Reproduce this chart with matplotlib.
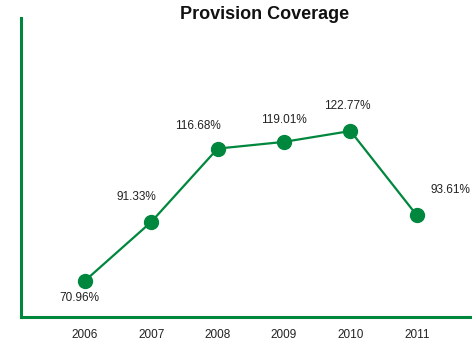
import matplotlib.pyplot as plt

# Provision coverage ratio by year
years = [2006, 2007, 2008, 2009, 2010, 2011]
coverage = [70.96, 91.33, 116.68, 119.01, 122.77, 93.61]
labels = ['70.96%', '91.33%', '116.68%', '119.01%', '122.77%', '93.61%']

# label offsets from each point, in points
label_offsets = [(-4, -12), (-11, 18), (-14, 16), (0, 16), (-2, 18), (24, 18)]

green = '#00873e'
plt.rcParams['font.family'] = ['Liberation Sans', 'DejaVu Sans']

fig = plt.figure(figsize=(4.72, 3.47), dpi=100)
ax = fig.add_axes([0.0445, 0.0865, 0.9555, 0.8615])

ax.plot(years, coverage, color=green, linewidth=1.6, marker='o',
        markersize=10, markerfacecolor=green, markeredgecolor=green,
        clip_on=False, zorder=3)

for x, y, txt, off in zip(years, coverage, labels, label_offsets):
    ax.annotate(txt, (x, y), xytext=off, textcoords='offset points',
                ha='center', va='center', fontsize=8.5, color='#222222',
                annotation_clip=False)

ax.set_xlim(2005.04, 2011.83)
ax.set_ylim(58.5, 161.8)

for side in ['top', 'right']:
    ax.spines[side].set_visible(False)
for side in ['left', 'bottom']:
    ax.spines[side].set_color(green)
    ax.spines[side].set_linewidth(2.2)

ax.set_yticks([])
ax.set_xticks(years)
ax.set_xticklabels([str(y) for y in years], fontsize=8.5, color='#222222')
ax.tick_params(axis='x', length=0, pad=9)

fig.text(0.561, 0.958, 'Provision Coverage', ha='center', va='center',
         fontsize=13, fontweight='bold', color='#111111')

fig.savefig('out.png', dpi=100)
